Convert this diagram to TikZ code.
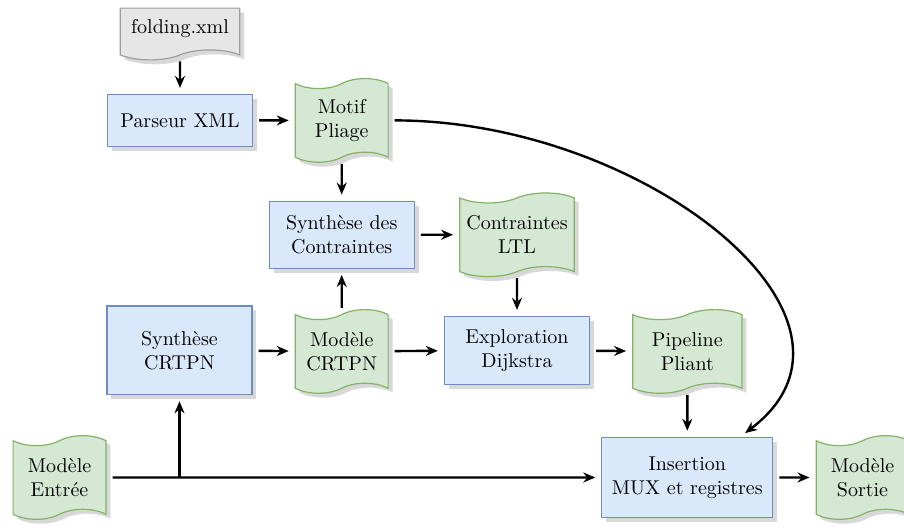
\documentclass[tikz,border=0pt]{standalone}
\usepackage{tikz}
\usepackage{xcolor}
\usetikzlibrary{shapes.symbols,shadows,arrows.meta}
\definecolor{procfill}{HTML}{DAE8FC}
\definecolor{procline}{HTML}{6C8EBF}
\definecolor{datafill}{HTML}{D5E8D4}
\definecolor{dataline}{HTML}{82B366}
\definecolor{srcfill}{HTML}{E6E6E6}
\definecolor{srcline}{HTML}{9E9E9E}
\tikzset{
  boxshadow/.style={drop shadow={shadow xshift=2.2pt, shadow yshift=-2.2pt, fill=black!30}},
  proc/.style={draw=procline, fill=procfill, line width=0.6pt, align=center, minimum width=2.55cm, minimum height=0.91cm, boxshadow},
  datafile/.style={tape, tape bend height=5pt, draw=dataline, fill=datafill, line width=0.6pt, align=center, minimum width=1.63cm, minimum height=1.47cm, boxshadow},
  srcfile/.style={tape, tape bend top=none, tape bend height=5pt, draw=srcline, fill=srcfill, line width=0.6pt, minimum width=2.1cm, minimum height=0.91cm, boxshadow},
  flow/.style={draw, line width=1.2pt, -{Stealth[length=6pt,width=5pt]}, shorten >=3pt, shorten <=3pt},
}
\begin{document}
\begin{tikzpicture}
\useasboundingbox (0,0) rectangle (15.886,9.226);
\node[srcfile] (folding) at (3.163,8.716) {folding.xml};
\node[proc] (parseur) at (3.163,7.110) {Parseur XML};
\node[datafile] (motif) at (6.005,7.110) {Motif\\Pliage};
\node[proc, minimum height=1.18cm] (synthc) at (6.005,5.100) {Synthèse des\\Contraintes};
\node[datafile] (ltl) at (9.085,5.100) {Contraintes\\LTL};
\node[proc, minimum height=1.56cm] (synthcrtpn) at (3.154,3.070) {Synthèse\\CRTPN};
\node[datafile] (modcrtpn) at (6.005,3.050) {Modèle\\CRTPN};
\node[proc, minimum height=1.19cm] (explo) at (9.085,3.070) {Exploration\\Dijkstra};
\node[datafile, minimum width=1.92cm] (pipeline) at (12.078,3.050) {Pipeline\\Pliant};
\node[datafile] (entree) at (1.046,0.835) {Modèle\\Entrée};
\node[proc, minimum height=1.41cm, inner sep=5pt] (insertion) at (12.078,0.835) {Insertion\\MUX et registres};
\node[datafile] (sortie) at (15.157,0.835) {Modèle\\Sortie};
\coordinate (split) at (synthcrtpn |- entree);
\draw[flow] (folding) -- (parseur);
\draw[flow] (parseur) -- (motif);
\draw[flow] (motif) -- (synthc);
\draw[flow] (synthc) -- (ltl);
\draw[flow] (modcrtpn) -- (synthc);
\draw[flow] (ltl) -- (explo);
\draw[flow] (synthcrtpn) -- (modcrtpn);
\draw[flow] (modcrtpn) -- (explo);
\draw[flow] (explo) -- (pipeline);
\draw[flow] (pipeline) -- (insertion);
\draw[flow] (insertion) -- (sortie);
\draw[flow] (entree) -- (insertion);
\draw[flow, shorten <=0pt] (split) -- (synthcrtpn);
\draw[flow] (motif.east) .. controls +(4.48,0) and +(2.72,2.06) .. ([xshift=0.93cm]insertion.north);
\end{tikzpicture}
\end{document}
